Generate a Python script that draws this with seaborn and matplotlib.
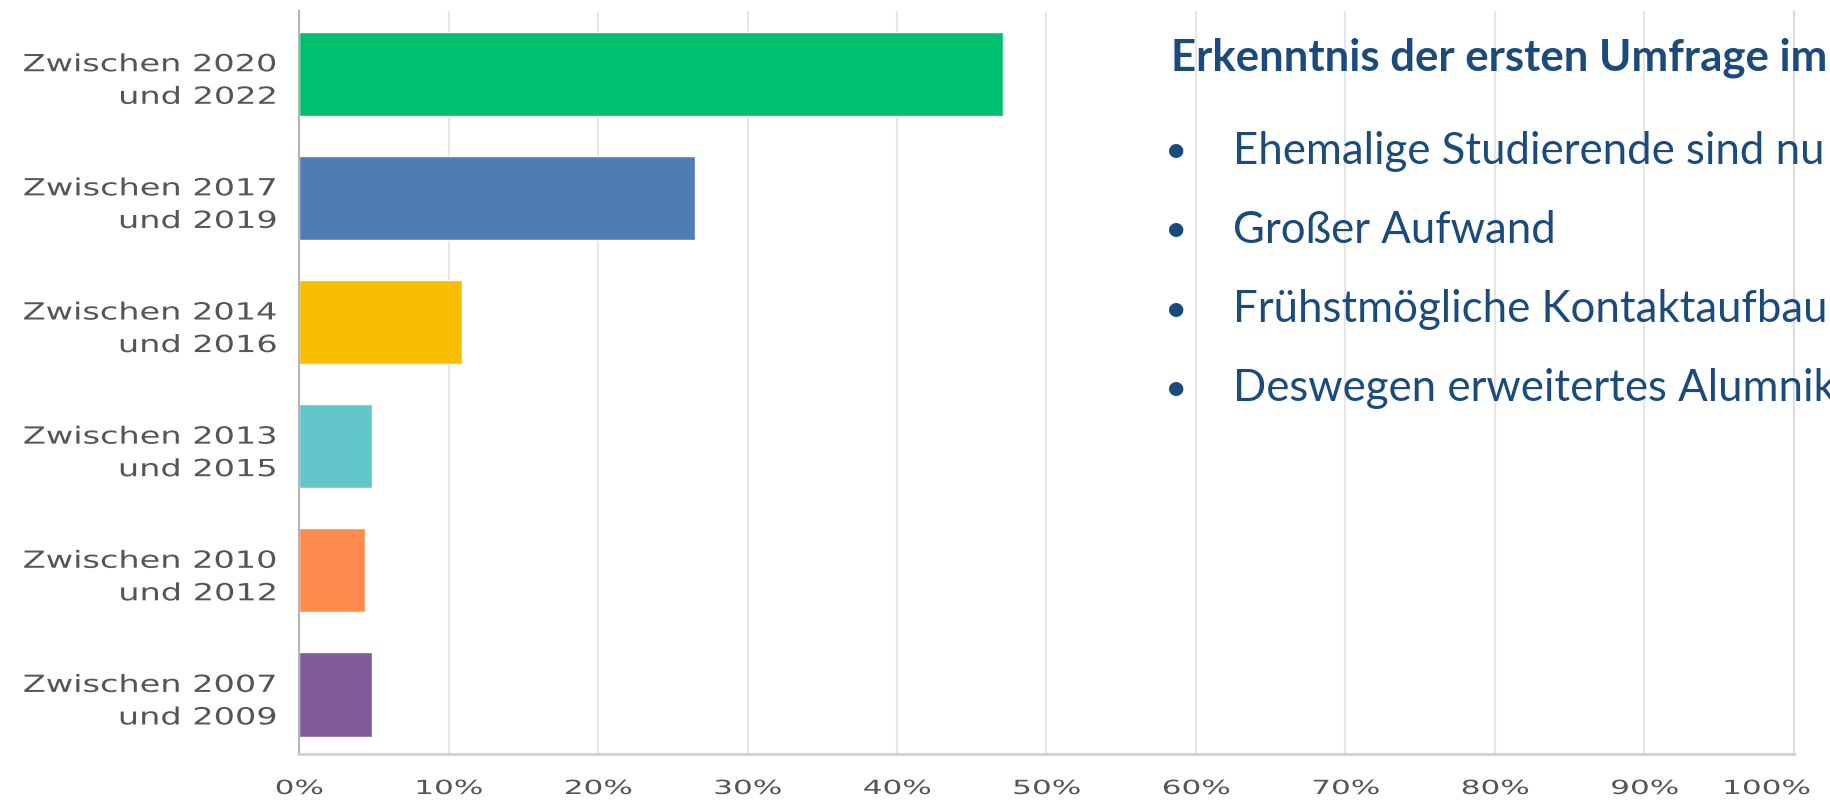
import matplotlib
matplotlib.use("Agg")
import matplotlib.pyplot as plt
from matplotlib.patheffects import AbstractPathEffect
from matplotlib.transforms import Affine2D
import pandas as pd
import seaborn as sns

# Chart data
categories = [
    "Zwischen 2020\nund 2022",
    "Zwischen 2017\nund 2019",
    "Zwischen 2014\nund 2016",
    "Zwischen 2013\nund 2015",
    "Zwischen 2010\nund 2012",
    "Zwischen 2007\nund 2009",
]
shares = [47.1, 26.5, 10.9, 4.9, 4.4, 4.9]
bar_colors = ["#00BF6F", "#507CB6", "#F9BE00", "#62C6CB", "#FF8B4F", "#7E5C98"]
tick_values = list(range(0, 101, 10))
tick_labels = [f"{v}%" for v in tick_values]

title = "Erkenntnis der ersten Umfrage im"
bullets = [
    "Ehemalige Studierende sind nu",
    "Großer Aufwand",
    "Frühstmögliche Kontaktaufbau",
    "Deswegen erweitertes Alumnik",
]


class Stretch(AbstractPathEffect):
    """Widen text horizontally (the original axis font is a wide one)."""

    def __init__(self, sx, anchor="center"):
        super().__init__()
        self.sx = sx
        self.anchor = anchor

    def draw_path(self, renderer, gc, tpath, affine, rgbFace=None):
        pts = affine.transform(tpath.vertices)
        if len(pts) == 0:
            return
        if self.anchor == "right":
            x0 = pts[:, 0].max()
        else:
            x0 = (pts[:, 0].min() + pts[:, 0].max()) / 2
        stretch = Affine2D().translate(-x0, 0).scale(self.sx, 1).translate(x0, 0)
        renderer.draw_path(gc, tpath, affine + stretch, rgbFace)


df = pd.DataFrame({"category": categories, "share": shares})

sns.set_theme(style="white")
plt.rcParams["font.family"] = ["DejaVu Sans"]

fig = plt.figure(figsize=(18.3, 8.03), dpi=100)
ax = fig.add_axes([0.1634, 0.0598, 0.8169, 0.9252])

sns.barplot(data=df, x="share", y="category", hue="category",
            palette=bar_colors, orient="h", width=0.68,
            legend=False, saturation=1, ax=ax)

ax.set_xlim(0, 100)
ax.set_ylim(5.48, -0.505)
ax.set_xticks(tick_values)
ax.set_xticklabels(tick_labels)
ax.set_xlabel("")
ax.set_ylabel("")
ax.grid(axis="x", color="#e6e6e6", linewidth=1.5)
ax.set_axisbelow(True)

ax.spines["top"].set_visible(False)
ax.spines["left"].set_color("#b5b5b5")
ax.spines["left"].set_linewidth(1.5)
ax.spines["bottom"].set_color("#d0d0d0")
ax.spines["bottom"].set_linewidth(2)
ax.spines["right"].set_color("#dddddd")
ax.spines["right"].set_linewidth(1.5)

ax.tick_params(axis="both", length=0, colors="#555555")
ax.tick_params(axis="x", labelsize=14, pad=18)
ax.tick_params(axis="y", labelsize=17, pad=16)
for lbl in ax.get_yticklabels():
    lbl.set_linespacing(1.45)
    lbl.set_horizontalalignment("right")
    lbl.set_path_effects([Stretch(1.42, "right")])
for lbl in ax.get_xticklabels():
    lbl.set_path_effects([Stretch(1.6, "center")])
# the last label sits left of its tick so it stays inside the picture
ax.get_xticklabels()[-1].set_horizontalalignment("right")

# Text block on the right, drawn on top of the chart
text_color = "#1B4B7D"
fig.text(1171 / 1830, 1 - 57.5 / 803, title, family=["Lato", "DejaVu Sans"],
         fontweight="bold", fontsize=31.5, color=text_color, va="center", ha="left")
for i, line in enumerate(bullets):
    y = 1 - (151 + i * 79.3) / 803
    fig.text(1176 / 1830, y, "•", family=["Lato", "DejaVu Sans"],
             fontsize=28, color=text_color, va="center", ha="center")
    fig.text(1233 / 1830, y, line, family=["Lato", "DejaVu Sans"],
             fontsize=31.5, color=text_color, va="center", ha="left")

fig.savefig("out.png", dpi=100)
